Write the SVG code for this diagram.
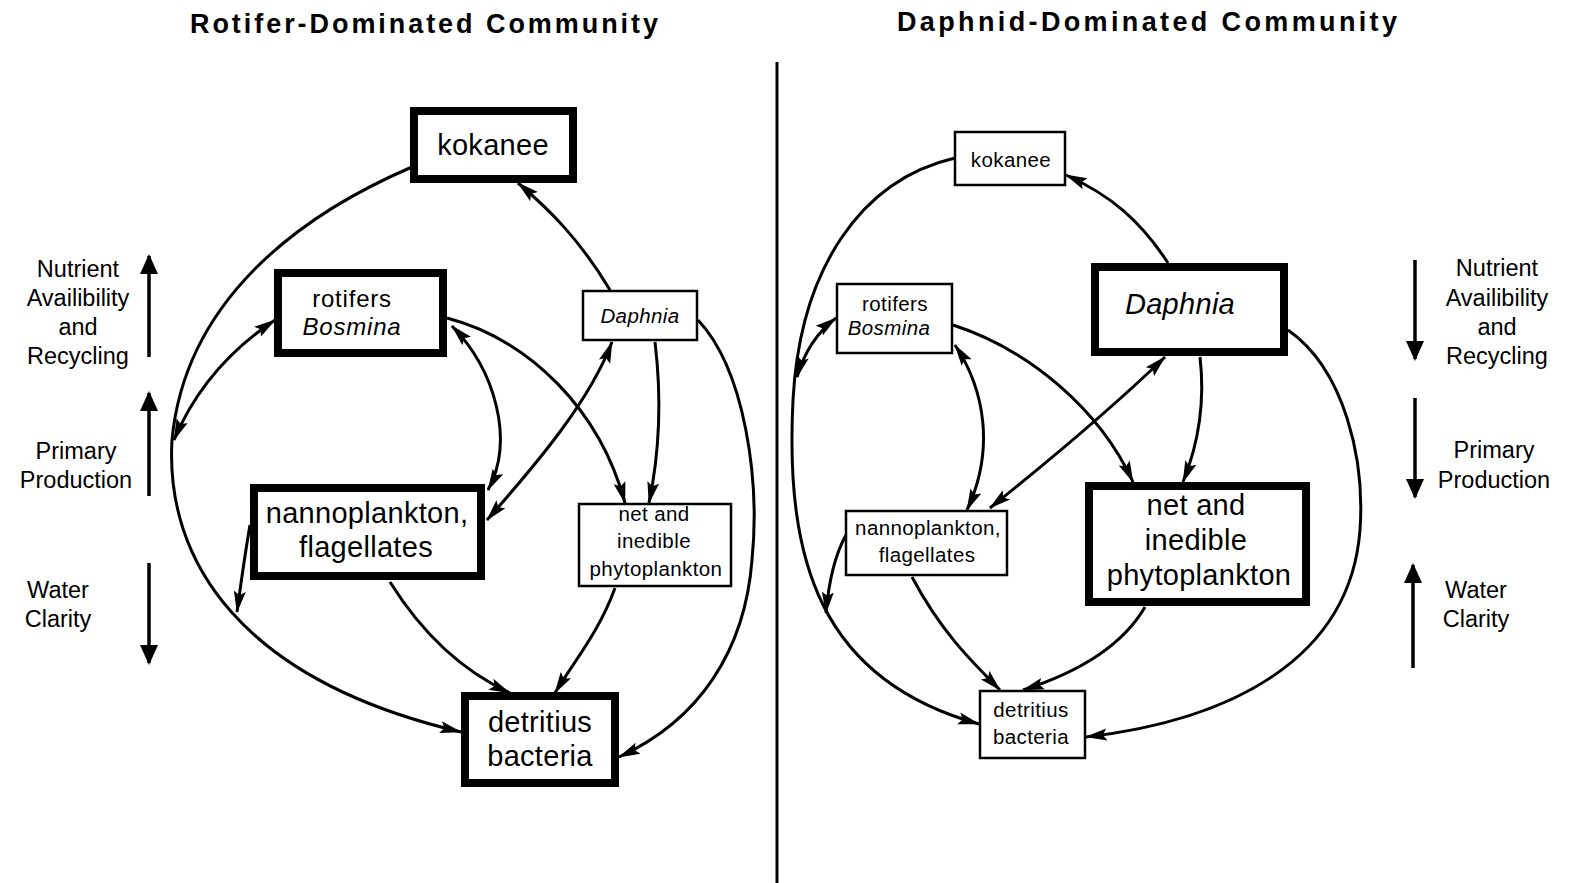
<svg xmlns="http://www.w3.org/2000/svg" width="1570" height="883" viewBox="0 0 1570 883">
<style>
text{font-family:"Liberation Sans",Arial,sans-serif;fill:#000;text-anchor:middle}
.title{font-weight:bold;font-size:27px}
.side{font-size:23.5px}
.big{font-size:29px;letter-spacing:0.3px}
.big2{font-size:24px;letter-spacing:0.8px}
.small{font-size:20.5px;letter-spacing:0.4px}
.it{font-style:italic}
.thick{fill:#fff;stroke:#000;stroke-width:8}
.thin{fill:#fff;stroke:#000;stroke-width:2.5}
.c{fill:none;stroke:#000;stroke-width:3}
.a{marker-end:url(#ah)}
.d{marker-start:url(#ah);marker-end:url(#ah)}
.s{fill:none;stroke:#000;stroke-width:3.5;marker-end:url(#sh)}
</style>
<defs>
<marker id="ah" viewBox="0 0 22 14" markerWidth="22" markerHeight="14" refX="21" refY="7" orient="auto-start-reverse" markerUnits="userSpaceOnUse">
<path d="M0,1 L22,7 L0,13 L4,7 z" fill="#000"/>
</marker>
<marker id="sh" viewBox="0 0 20 18" markerWidth="20" markerHeight="18" refX="18" refY="9" orient="auto" markerUnits="userSpaceOnUse">
<path d="M0,0 L20,9 L0,18 z" fill="#000"/>
</marker>
</defs>
<rect width="1570" height="883" fill="#fff"/>
<text class="title" x="424" y="33" textLength="468" lengthAdjust="spacing">Rotifer-Dominated  Community</text>
<text class="title" x="1147" y="31" textLength="500" lengthAdjust="spacing">Daphnid-Dominated  Community</text>
<line x1="777" y1="62" x2="777" y2="883" stroke="#000" stroke-width="3"/>

<g id="side-left">
<text class="side" x="78" y="277">Nutrient</text>
<text class="side" x="78" y="306">Availibility</text>
<text class="side" x="78" y="335">and</text>
<text class="side" x="78" y="364">Recycling</text>
<line class="s" x1="149" y1="357" x2="149" y2="256"/>
<text class="side" x="76" y="459">Primary</text>
<text class="side" x="76" y="488">Production</text>
<line class="s" x1="149" y1="496" x2="149" y2="393"/>
<text class="side" x="58" y="598">Water</text>
<text class="side" x="58" y="627">Clarity</text>
<line class="s" x1="149" y1="563" x2="149" y2="663"/>
</g>
<g id="side-right">
<text class="side" x="1497" y="276">Nutrient</text>
<text class="side" x="1497" y="306">Availibility</text>
<text class="side" x="1497" y="335">and</text>
<text class="side" x="1497" y="364">Recycling</text>
<line class="s" x1="1415" y1="260" x2="1415" y2="359"/>
<text class="side" x="1494" y="458">Primary</text>
<text class="side" x="1494" y="488">Production</text>
<line class="s" x1="1415" y1="398" x2="1415" y2="497"/>
<text class="side" x="1476" y="598">Water</text>
<text class="side" x="1476" y="627">Clarity</text>
<line class="s" x1="1413" y1="668" x2="1413" y2="565"/>
</g>

<g id="connectors">
<path class="c a" d="M412,167 C300,215 185,300 172,440 C165,560 240,680 461,732"/>
<path class="c a" d="M610,290 C580,240 550,210 518,183"/>
<path class="c d" d="M275,320 C230,350 195,390 174,440"/>
<path class="c d" d="M452,326 C495,370 515,440 488,490"/>
<path class="c a" d="M447,318 C530,340 600,410 625,503"/>
<path class="c d" d="M612,342 C590,400 540,460 487,520"/>
<path class="c a" d="M655,342 C662,400 660,450 649,503"/>
<path class="c a" d="M698,320 C745,370 760,480 752,560 C745,650 700,720 619,757"/>
<path class="c a" d="M250,525 C244,560 240,590 237,612"/>
<path class="c a" d="M390,582 C420,630 460,670 510,693"/>
<path class="c a" d="M615,588 C600,630 575,660 555,693"/>

<path class="c a" d="M955,158 C860,180 800,270 793,400 C785,560 820,680 979,724"/>
<path class="c a" d="M1168,263 C1140,220 1110,195 1066,175"/>
<path class="c d" d="M836,318 C820,330 805,350 797,377"/>
<path class="c d" d="M955,345 C985,390 995,450 967,510"/>
<path class="c a" d="M953,325 C1030,350 1100,410 1133,482"/>
<path class="c d" d="M1165,357 C1110,410 1050,460 990,508"/>
<path class="c a" d="M1200,357 C1205,400 1200,440 1183,482"/>
<path class="c a" d="M1288,330 C1345,370 1365,460 1360,530 C1350,660 1230,720 1086,737"/>
<path class="c a" d="M846,535 C832,560 828,590 826,613"/>
<path class="c a" d="M912,577 C940,630 970,660 1000,690"/>
<path class="c a" d="M1145,607 C1120,650 1070,675 1023,690"/>
</g>

<g id="L-kokanee">
<rect class="thick" x="414" y="111" width="159" height="68"/>
<text class="big" x="493" y="155">kokanee</text>
</g>
<g id="L-rotifers">
<rect class="thick" x="278" y="273" width="165" height="80"/>
<text class="big2" x="352" y="307">rotifers</text>
<text class="big2 it" x="352" y="335">Bosmina</text>
</g>
<g id="L-daphnia">
<rect class="thin" x="583" y="291" width="114" height="49"/>
<text class="small it" x="640" y="323">Daphnia</text>
</g>
<g id="L-nanno">
<rect class="thick" x="254" y="488" width="227" height="88"/>
<text class="big" x="367" y="523">nannoplankton,</text>
<text class="big" x="366" y="557">flagellates</text>
</g>
<g id="L-net">
<rect class="thin" x="579" y="504" width="152" height="82"/>
<text class="small" x="654" y="521">net and</text>
<text class="small" x="654" y="548">inedible</text>
<text class="small" x="656" y="576">phytoplankton</text>
</g>
<g id="L-detritius">
<rect class="thick" x="465" y="696" width="150" height="87"/>
<text class="big" x="540" y="732">detritius</text>
<text class="big" x="540" y="766">bacteria</text>
</g>

<g id="R-kokanee">
<rect class="thin" x="955" y="132" width="110" height="53"/>
<text class="small" x="1011" y="167">kokanee</text>
</g>
<g id="R-rotifers">
<rect class="thin" x="837" y="284" width="115" height="69"/>
<text class="small" x="895" y="311">rotifers</text>
<text class="small it" x="889" y="335">Bosmina</text>
</g>
<g id="R-daphnia">
<rect class="thick" x="1095" y="267" width="189" height="85"/>
<text class="big it" x="1180" y="314">Daphnia</text>
</g>
<g id="R-nanno">
<rect class="thin" x="846" y="511" width="161" height="64"/>
<text class="small" x="928" y="535">nannoplankton,</text>
<text class="small" x="927" y="562">flagellates</text>
</g>
<g id="R-net">
<rect class="thick" x="1089" y="486" width="217" height="116"/>
<text class="big" x="1196" y="515">net and</text>
<text class="big" x="1196" y="550">inedible</text>
<text class="big" x="1199" y="585">phytoplankton</text>
</g>
<g id="R-detritius">
<rect class="thin" x="980" y="691" width="105" height="67"/>
<text class="small" x="1031" y="717">detritius</text>
<text class="small" x="1031" y="744">bacteria</text>
</g>
</svg>
